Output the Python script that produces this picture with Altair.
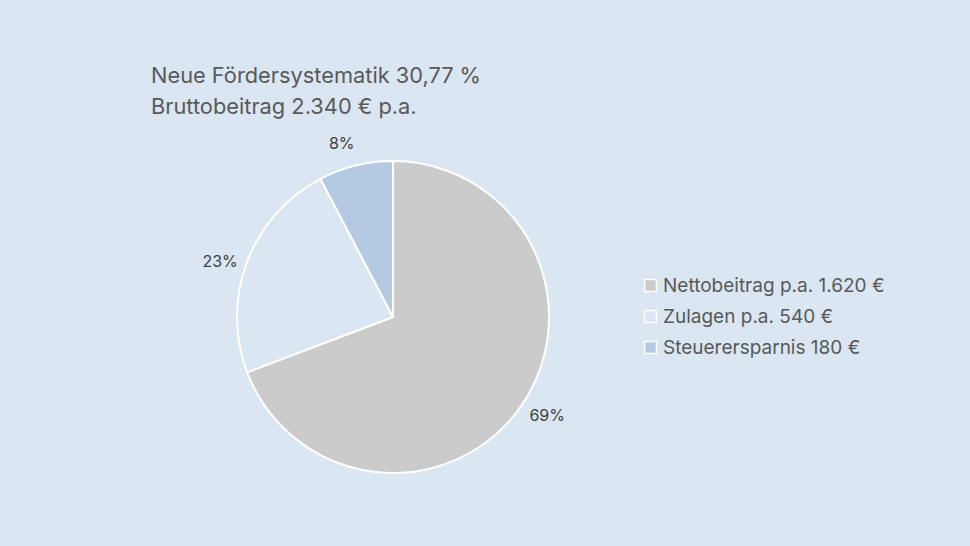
import math
import altair as alt
import pandas as pd

categories = ["Nettobeitrag p.a. 1.620 €", "Zulagen p.a. 540 €", "Steuerersparnis 180 €"]
values = [1620, 540, 180]
colors = ["#cbcbcb", "#dae6f2", "#b4c9e2"]
title_lines = ["Neue Fördersystematik 30,77 %", "Bruttobeitrag 2.340 € p.a."]

total = sum(values)
df = pd.DataFrame({
    "cat": categories,
    "value": values,
    "order": list(range(len(values))),
    "pct": [f"{round(v / total * 100)}%" for v in values],
})

FONT = "Inter"
BG = "#dae6f2"

color = alt.Color(
    "cat:N",
    scale=alt.Scale(domain=categories, range=colors),
    legend=alt.Legend(
        title=None,
        orient="none",
        legendX=641,
        legendY=276,
        symbolType="square",
        symbolSize=140,
        symbolStrokeColor="white",
        symbolStrokeWidth=1.5,
        labelFont=FONT,
        labelFontSize=19,
        labelColor="#595959",
        labelOffset=3,
        rowPadding=11,
        labelLimit=400,
    ),
)

pie = alt.Chart(df).mark_arc(outerRadius=156, stroke="white", strokeWidth=2).encode(
    theta=alt.Theta("value:Q", stack=True),
    order=alt.Order("order:O"),
    color=color,
    x=alt.value(393),
    y=alt.value(317),
)

rot = -0.044  # small rotation of label placement, in radians
labels = alt.Chart(df).mark_text(radius=182, font=FONT, fontSize=16, color="#404040").encode(
    theta=alt.Theta("value:Q", stack=True,
                    scale=alt.Scale(range=[rot, 2 * math.pi + rot])),
    order=alt.Order("order:O"),
    text="pct:N",
    x=alt.value(393),
    y=alt.value(319),
)

tdf = pd.DataFrame({"line": title_lines, "i": [0, 1]})
title = alt.Chart(tdf).mark_text(
    align="left", baseline="middle", font=FONT, fontSize=21.8, color="#595959"
).encode(
    text="line:N",
    x=alt.value(151),
    y=alt.Y("i:Q", scale=alt.Scale(domain=[0, 1], range=[76, 107]), axis=None),
)

chart = alt.layer(pie, labels, title).resolve_scale(theta="independent").properties(
    width=970,
    height=546,
    background=BG,
    padding=0,
    autosize=alt.AutoSizeParams(type="none"),
).configure_view(stroke=None)

chart.save("out.html", embed_options={"renderer": "svg", "actions": False})
